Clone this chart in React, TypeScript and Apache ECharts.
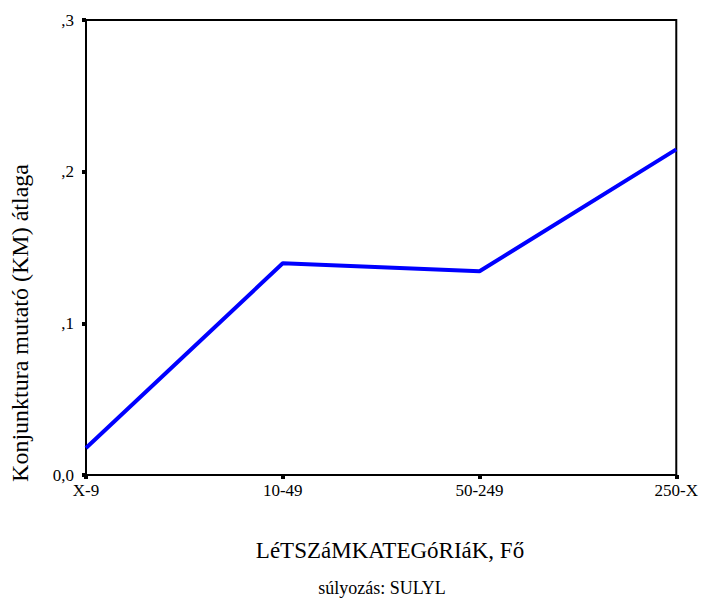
import React, { useEffect, useRef } from "react";
import * as echarts from "echarts";

const categories = ["X-9", "10-49", "50-249", "250-X"];
const meanValues = [0.0178, 0.1396, 0.1343, 0.2147];
const yTicks = [0, 0.1, 0.2, 0.3];
const yTickLabels = ["0,0", ",1", ",2", ",3"];
const xTitle = "LéTSZáMKATEGóRIáK, Fő";
const yTitle = "Konjunktura mutató (KM) átlaga";
const footnote = "súlyozás: SULYL";

const FONT = "'Times New Roman', 'Liberation Serif', Times, serif";

export default function App() {
  const ref = useRef<HTMLDivElement>(null);
  useEffect(() => {
    if (!ref.current) return;
    const chart = echarts.init(ref.current, null, { renderer: "svg" });
    chart.setOption({
      animation: false,
      backgroundColor: "#ffffff",
      textStyle: { fontFamily: FONT },
      grid: {
        left: 86,
        right: 21,
        top: 20,
        bottom: 129,
        show: true,
        borderColor: "#000",
        borderWidth: 2,
        backgroundColor: "transparent",
      },
      xAxis: {
        type: "category",
        data: categories,
        boundaryGap: false,
        axisLine: { lineStyle: { color: "#000", width: 2 } },
        axisTick: { show: true, length: 4, lineStyle: { color: "#000", width: 4 }, alignWithLabel: true },
        axisLabel: { color: "#000", fontFamily: FONT, fontSize: 17, margin: 7 },
        splitLine: { show: false },
      },
      yAxis: {
        type: "value",
        min: 0,
        max: 0.3,
        interval: 0.1,
        axisLine: { show: true, lineStyle: { color: "#000", width: 2 } },
        axisTick: { show: true, length: 4, lineStyle: { color: "#000", width: 4 } },
        axisLabel: {
          color: "#000",
          fontFamily: FONT,
          fontSize: 17,
          margin: 12,
          formatter: (v: number) => {
            const i = yTicks.findIndex((t) => Math.abs(t - v) < 1e-9);
            return i >= 0 ? yTickLabels[i] : "";
          },
        },
        splitLine: { show: false },
      },
      series: [
        {
          type: "line",
          data: meanValues,
          showSymbol: false,
          symbol: "none",
          lineStyle: { color: "#0000ff", width: 4 },
          z: 1,
        },
      ],
      graphic: [
        {
          type: "text",
          x: 20,
          y: 323,
          rotation: Math.PI / 2,
          style: {
            text: yTitle,
            fill: "#000",
            fontFamily: FONT,
            fontSize: 24,
            align: "center",
            verticalAlign: "middle",
          },
        },
        {
          type: "text",
          x: 390,
          y: 550,
          style: {
            text: xTitle,
            fill: "#000",
            fontFamily: FONT,
            fontSize: 23,
            align: "center",
            verticalAlign: "middle",
          },
        },
        {
          type: "text",
          x: 382,
          y: 588,
          style: {
            text: footnote,
            fill: "#000",
            fontFamily: FONT,
            fontSize: 18,
            align: "center",
            verticalAlign: "middle",
          },
        },
      ],
    });
    return () => chart.dispose();
  }, []);
  return (
    <div
      ref={ref}
      style={{ position: "fixed", left: 0, top: 0, width: 701, height: 604, background: "#fff" }}
    />
  );
}
